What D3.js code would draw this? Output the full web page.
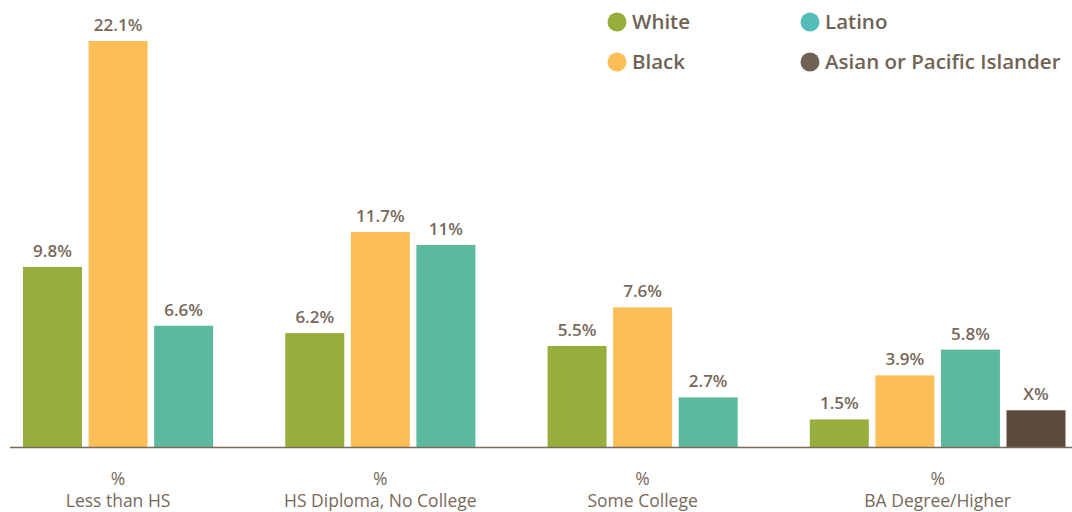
<!DOCTYPE html>
<html lang="en">
<head>
<meta charset="UTF-8">
<title>Education by race</title>
<script src="https://d3js.org/d3.v7.min.js"></script>
<style>
    body { margin: 0; background: #fff; font-family: "Open Sans", sans-serif; }
    .val { font-size: 17px; font-weight: 600; fill: #76695b; }
    .cat { font-size: 17.5px; fill: #76695b; }
    .leg { font-size: 20.5px; font-weight: 600; fill: #6f6355; }
</style>
</head>
<body>
<div id="chart"></div>
<script>
    // data
    const categories = ["Less than HS", "HS Diploma, No College", "Some College", "BA Degree/Higher"];
    const series = ["White", "Black", "Latino", "Asian or Pacific Islander"];
    // bar heights as drawn
    const white  = [9.8, 6.2, 5.5, 1.5];
    const black  = [22.1, 11.7, 7.6, 3.9];
    const latino = [6.6, 11, 2.7, 5.3];
    const asian  = [null, null, null, 2.0];
    // printed labels (the source prints 5.8% on a shorter bar, and X% for the last one)
    const whiteLabels  = ["9.8%", "6.2%", "5.5%", "1.5%"];
    const blackLabels  = ["22.1%", "11.7%", "7.6%", "3.9%"];
    const latinoLabels = ["6.6%", "11%", "2.7%", "5.8%"];
    const asianLabels  = [null, null, null, "X%"];

    const barColors = ["#98ae3c", "#fcbf57", "#5cb9a0", "#5e4b3b"];
    const legColors = ["#98ae3c", "#fcbf57", "#55bdb9", "#6f6253"];

    const width = 1072, height = 512;
    const svg = d3.select("#chart").append("svg")
        .attr("width", width).attr("height", height);

    const values = [white, black, latino, asian];
    const labels = [whiteLabels, blackLabels, latinoLabels, asianLabels];

    // one empty slot between groups
    const bars = [];
    const groupSlots = [];
    let slot = 0;
    categories.forEach((c, gi) => {
        const start = slot;
        values.forEach((arr, si) => {
            if (arr[gi] == null) return;
            bars.push({ cat: c, series: si, value: arr[gi], slot: slot, label: labels[si][gi] });
            slot++;
        });
        groupSlots.push([start, slot - 1]);
        slot++;
    });

    const x = d3.scaleBand()
        .domain(d3.range(slot - 1))
        .range([23, 1065.5])
        .paddingInner(0.1)
        .paddingOuter(0);

    const y = d3.scaleLinear().domain([0, 22.1]).range([447, 41]);

    svg.selectAll("rect.bar")
        .data(bars)
        .enter().append("rect")
        .attr("class", "bar")
        .attr("x", d => x(d.slot))
        .attr("width", x.bandwidth())
        .attr("y", d => y(d.value))
        .attr("height", d => y(0) - y(d.value))
        .attr("fill", d => barColors[d.series]);

    svg.selectAll("text.val")
        .data(bars)
        .enter().append("text")
        .attr("class", "val")
        .attr("text-anchor", "middle")
        .attr("x", d => x(d.slot) + x.bandwidth() / 2)
        .attr("y", d => y(d.value) - 10)
        .text(d => d.label);

    // baseline
    svg.append("line")
        .attr("x1", 10).attr("x2", width)
        .attr("y1", y(0) + 0.5).attr("y2", y(0) + 0.5)
        .attr("stroke", "#7a6a5a").attr("stroke-width", 1.5);

    // category labels
    const cat = svg.selectAll("g.cat")
        .data(categories)
        .enter().append("g")
        .attr("transform", (d, i) => {
            const [a, b] = groupSlots[i];
            const cx = (x(a) + x(b) + x.bandwidth()) / 2;
            return `translate(${cx},0)`;
        });
    cat.append("text").attr("class", "cat").attr("text-anchor", "middle")
        .attr("y", 485).text("%");
    cat.append("text").attr("class", "cat").attr("text-anchor", "middle")
        .attr("y", 507).text(d => d);

    // legend
    const legX = [617, 810], legY = [22, 62];
    const leg = svg.selectAll("g.leg")
        .data(series)
        .enter().append("g")
        .attr("transform", (d, i) => `translate(${legX[Math.floor(i / 2)]},${legY[i % 2]})`);
    leg.append("circle").attr("r", 9.5).attr("fill", (d, i) => legColors[i]);
    leg.append("text").attr("class", "leg")
        .attr("x", 15).attr("y", 7).text(d => d);
</script>
</body>
</html>
